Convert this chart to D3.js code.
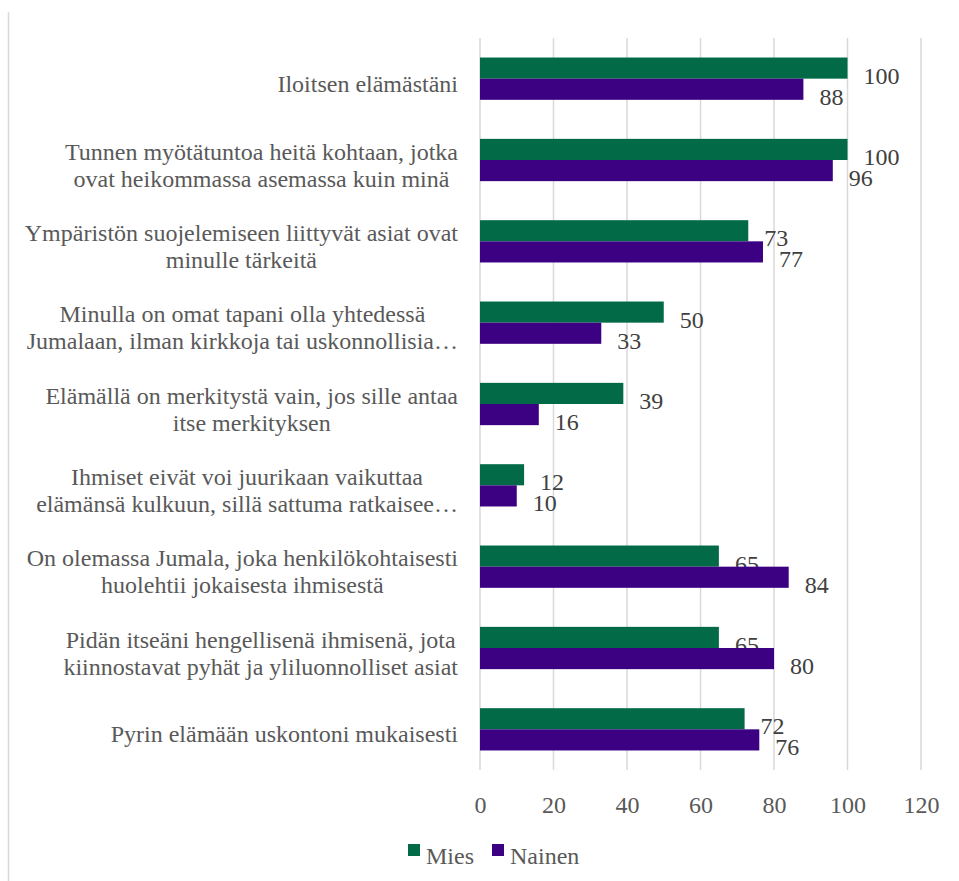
<!DOCTYPE html>
<html>
<head>
<meta charset="utf-8">
<script src="https://cdn.jsdelivr.net/npm/d3@7"></script>
<style>
  body { margin: 0; background: #fff; }
</style>
</head>
<body>
<svg id="chart" width="959" height="881"></svg>
<script>
// categories, top to bottom (each entry = lines of the label)
const categories = [
    ["Iloitsen elämästäni"],
    ["Tunnen myötätuntoa heitä kohtaan, jotka", "ovat heikommassa asemassa kuin minä"],
    ["Ympäristön suojelemiseen liittyvät asiat ovat", "minulle tärkeitä"],
    ["Minulla on omat tapani olla yhtedessä", "Jumalaan, ilman kirkkoja tai uskonnollisia…"],
    ["Elämällä on merkitystä vain, jos sille antaa", "itse merkityksen"],
    ["Ihmiset eivät voi juurikaan vaikuttaa", "elämänsä kulkuun, sillä sattuma ratkaisee…"],
    ["On olemassa Jumala, joka henkilökohtaisesti", "huolehtii jokaisesta ihmisestä"],
    ["Pidän itseäni hengellisenä ihmisenä, jota", "kiinnostavat pyhät ja yliluonnolliset asiat"],
    ["Pyrin elämään uskontoni mukaisesti"]
];
const mies = [100, 100, 73, 50, 39, 12, 65, 65, 72];
const nainen = [88, 96, 77, 33, 16, 10, 84, 80, 76];
const seriesNames = ["Mies", "Nainen"];
const seriesColors = ["#036a47", "#3c0083"];
const xTicks = [0, 20, 40, 60, 80, 100, 120];

const FONT = "'Liberation Serif', 'Times New Roman', serif";
const svg = d3.select("#chart");
const plotLeft = 480, plotRight = 921, plotTop = 38, plotBottom = 770;

// outer border (left edge visible)
svg.append("line")
    .attr("x1", 8.5).attr("x2", 8.5)
    .attr("y1", 12).attr("y2", 881)
    .attr("stroke", "#d9d9d9").attr("stroke-width", 1.5);

const x = d3.scaleLinear().domain([0, 120]).range([plotLeft, plotRight]);
const y = d3.scaleBand().domain(d3.range(categories.length)).range([plotTop, plotBottom]).paddingInner(0.48).paddingOuter(0.24);
const ySub = d3.scaleBand().domain([0, 1]).range([0, y.bandwidth()]);

// gridlines
svg.append("g")
    .selectAll("line")
    .data(xTicks)
    .enter().append("line")
    .attr("x1", d => x(d)).attr("x2", d => x(d))
    .attr("y1", plotTop).attr("y2", plotBottom)
    .attr("stroke", "#d9d9d9")
    .attr("stroke-width", 1.5);

// x axis tick labels
const xAxis = svg.append("g")
    .attr("transform", `translate(0,${plotBottom})`)
    .call(d3.axisBottom(x).tickValues(xTicks).tickSize(0).tickPadding(43));
xAxis.select(".domain").remove();
xAxis.selectAll("text")
    .attr("dy", null)
    .attr("font-size", "24px")
    .attr("fill", "#595959")
    .style("font-family", FONT);

// bars
const series = [mies, nainen];
series.forEach((vals, s) => {
    svg.append("g")
        .selectAll("rect")
        .data(vals)
        .enter().append("rect")
        .attr("x", x(0))
        .attr("y", (d, i) => y(i) + ySub(s))
        .attr("width", d => x(d) - x(0))
        .attr("height", ySub.bandwidth())
        .attr("fill", seriesColors[s]);

    svg.append("g")
        .selectAll("text")
        .data(vals)
        .enter().append("text")
        .attr("x", d => x(d) + 16)
        .attr("y", (d, i) => y(i) + ySub(s) + ySub.bandwidth() + 5)
        .attr("font-size", "24px")
        .attr("fill", "#404040")
        .style("font-family", FONT)
        .text(d => d);
});

// category labels (multi-line, centred block, right edge fixed)
const labelRight = 458;
const lineH = 27;
categories.forEach((lines, i) => {
    const cy = y(i) + y.bandwidth() / 2;
    const t = svg.append("text")
        .attr("font-size", "24px")
        .attr("fill", "#595959")
        .attr("text-anchor", "middle")
        .style("font-family", FONT);
    lines.forEach((ln, k) => {
        t.append("tspan")
            .attr("y", cy + 13 + (k - (lines.length - 1) / 2) * lineH)
            .text(ln);
    });
    let maxW = 0;
    t.selectAll("tspan").each(function () {
        maxW = Math.max(maxW, this.getComputedTextLength());
    });
    t.selectAll("tspan").attr("x", labelRight - maxW / 2);
});

// legend
const legend = svg.append("g").attr("transform", "translate(408,864)");
let lx = 0;
seriesNames.forEach((name, s) => {
    legend.append("rect")
        .attr("x", lx).attr("y", -20)
        .attr("width", 12).attr("height", 12)
        .attr("fill", seriesColors[s]);
    const txt = legend.append("text")
        .attr("x", lx + 18)
        .attr("y", 0)
        .attr("font-size", "24px")
        .attr("fill", "#595959")
        .style("font-family", FONT)
        .text(name);
    lx += 18 + txt.node().getComputedTextLength() + 18;
});
</script>
</body>
</html>
